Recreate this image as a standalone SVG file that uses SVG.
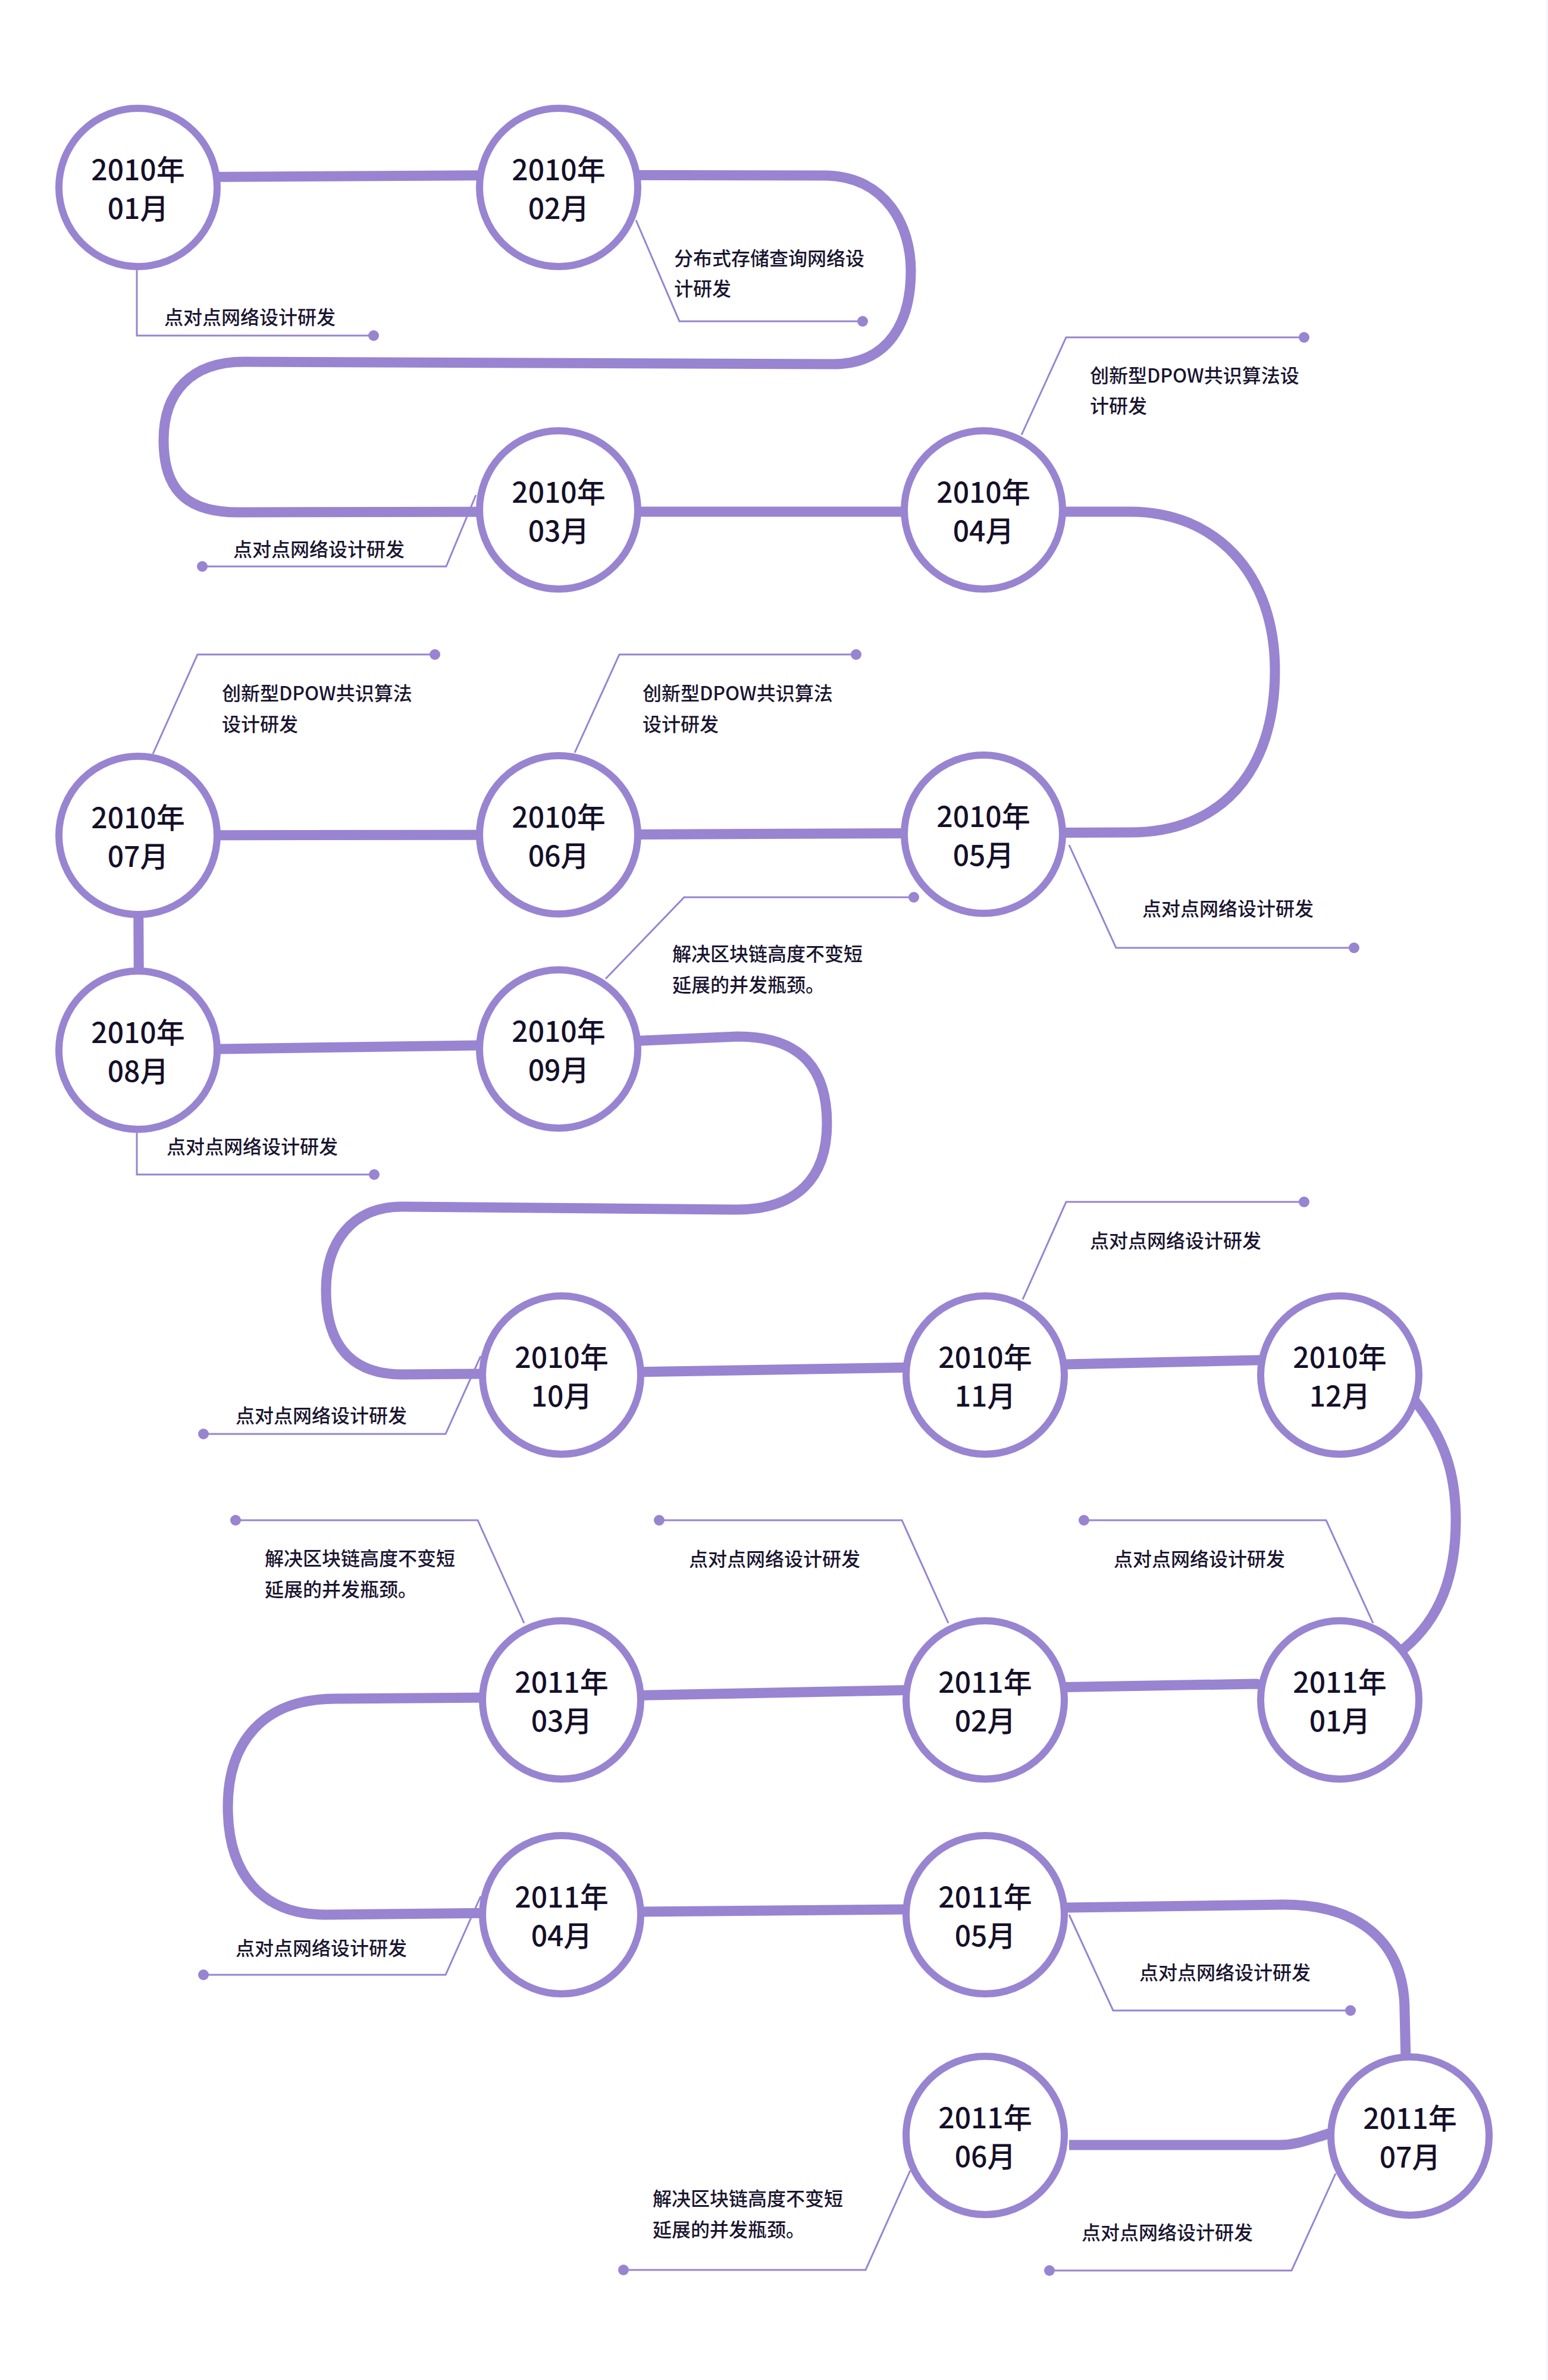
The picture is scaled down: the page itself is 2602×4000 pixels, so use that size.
<svg xmlns="http://www.w3.org/2000/svg" width="2602" height="4000" viewBox="0 0 2602 4000">
<style>
.bg{fill:#ffffff}
.path{fill:none;stroke:#9884d0;stroke-width:17;stroke-linejoin:round}
.ring{fill:#ffffff;stroke:#9884d0;stroke-width:12}
.lead{fill:none;stroke:#9884d0;stroke-width:3}
.dot{fill:#9884d0}
.yr{font-family:"Noto Sans CJK SC","Noto Sans",sans-serif;font-size:48px;font-weight:500;fill:#150f29;text-anchor:middle}
.lbl{font-family:"Noto Sans CJK SC","Noto Sans",sans-serif;font-size:32px;font-weight:500;fill:#1a1530}
</style>
<rect class="bg" x="0" y="0" width="2602" height="4000"/>
<rect x="2599" y="0" width="3" height="4000" fill="#f7f4fc"/>

<g id="connectors">
<path class="path" d="M232 298 L939 294 L1390 295 C1490 298 1531 380 1531 455 C1531 540 1495 612 1400 612 L410 608 C320 608 275 660 275 740 C275 830 320 863 408 861 L939 860 L1653 860 L1900 860 C2040 860 2143 960 2143 1127 C2143 1300 2050 1399 1900 1399 L1653 1400 L939 1403 L232 1404 L234 1765 L939 1755 L1240 1742 C1350 1742 1390 1800 1390 1888 C1390 1980 1340 2033 1237 2033 L676 2028 C590 2028 548 2090 548 2168 C548 2260 590 2310 676 2310 L944 2308 L1656 2296 L2252 2283 L2378 2354 C2430 2420 2447 2480 2447 2555 C2447 2650 2420 2720 2361 2770 L2252 2857 L2112 2830 L1656 2838 L944 2852 L564 2855 C440 2855 383 2930 383 3037 C383 3150 440 3218 547 3218 L944 3214 L1656 3208 L2158 3201 C2280 3201 2361 3260 2361 3380 L2366 3590 L2233 3586 C2200 3596 2180 3605 2150 3605 L1797 3605"/>
<g id="leaders">
<polyline class="lead" points="230,454 230,564 628,564"/><circle class="dot" cx="628" cy="564" r="9"/>
<polyline class="lead" points="1069,370 1142,540 1450,540"/><circle class="dot" cx="1450" cy="540" r="9"/>
<polyline class="lead" points="800,832 750,952 340,952"/><circle class="dot" cx="340" cy="952" r="9"/>
<polyline class="lead" points="1717,731 1792,567 2192,567"/><circle class="dot" cx="2192" cy="567" r="9"/>
<polyline class="lead" points="1797,1420 1876,1593 2276,1593"/><circle class="dot" cx="2276" cy="1593" r="9"/>
<polyline class="lead" points="966,1265 1041,1100 1439,1100"/><circle class="dot" cx="1439" cy="1100" r="9"/>
<polyline class="lead" points="257,1267 332,1100 731,1100"/><circle class="dot" cx="731" cy="1100" r="9"/>
<polyline class="lead" points="230,1904 230,1974 629,1974"/><circle class="dot" cx="629" cy="1974" r="9"/>
<polyline class="lead" points="1018,1645 1150,1508 1536,1508"/><circle class="dot" cx="1536" cy="1508" r="9"/>
<polyline class="lead" points="808,2279 749,2410 342,2410"/><circle class="dot" cx="342" cy="2410" r="9"/>
<polyline class="lead" points="1719,2184 1792,2020 2192,2020"/><circle class="dot" cx="2192" cy="2020" r="9"/>
<polyline class="lead" points="2308,2728 2229,2555 1822,2555"/><circle class="dot" cx="1822" cy="2555" r="9"/>
<polyline class="lead" points="1594,2728 1516,2555 1108,2555"/><circle class="dot" cx="1108" cy="2555" r="9"/>
<polyline class="lead" points="881,2728 803,2555 396,2555"/><circle class="dot" cx="396" cy="2555" r="9"/>
<polyline class="lead" points="808,3187 749,3319 342,3319"/><circle class="dot" cx="342" cy="3319" r="9"/>
<polyline class="lead" points="1797,3218 1871,3379 2270,3379"/><circle class="dot" cx="2270" cy="3379" r="9"/>
<polyline class="lead" points="1530,3648 1455,3815 1048,3815"/><circle class="dot" cx="1048" cy="3815" r="9"/>
<polyline class="lead" points="2245,3653 2171,3816 1764,3816"/><circle class="dot" cx="1764" cy="3816" r="9"/>
</g>
</g>

<g id="n2010-01"><circle class="ring" cx="232" cy="315" r="133"/><text class="yr" x="232" y="303">2010年</text><text class="yr" x="232" y="368">01月</text><text class="lbl" x="276" y="545">点对点网络设计研发</text></g>
<g id="n2010-02"><circle class="ring" cx="939" cy="315" r="133"/><text class="yr" x="939" y="303">2010年</text><text class="yr" x="939" y="368">02月</text><text class="lbl" x="1133" y="446">分布式存储查询网络设</text><text class="lbl" x="1133" y="497">计研发</text></g>
<g id="n2010-03"><circle class="ring" cx="939" cy="857" r="133"/><text class="yr" x="939" y="845">2010年</text><text class="yr" x="939" y="910">03月</text><text class="lbl" x="392" y="935">点对点网络设计研发</text></g>
<g id="n2010-04"><circle class="ring" cx="1653" cy="857" r="133"/><text class="yr" x="1653" y="845">2010年</text><text class="yr" x="1653" y="910">04月</text><text class="lbl" x="1832" y="643">创新型DPOW共识算法设</text><text class="lbl" x="1832" y="694">计研发</text></g>
<g id="n2010-05"><circle class="ring" cx="1653" cy="1402" r="133"/><text class="yr" x="1653" y="1390">2010年</text><text class="yr" x="1653" y="1455">05月</text><text class="lbl" x="1920" y="1539">点对点网络设计研发</text></g>
<g id="n2010-06"><circle class="ring" cx="939" cy="1403" r="133"/><text class="yr" x="939" y="1391">2010年</text><text class="yr" x="939" y="1456">06月</text><text class="lbl" x="1080" y="1177">创新型DPOW共识算法</text><text class="lbl" x="1080" y="1229">设计研发</text></g>
<g id="n2010-07"><circle class="ring" cx="232" cy="1404" r="133"/><text class="yr" x="232" y="1392">2010年</text><text class="yr" x="232" y="1457">07月</text><text class="lbl" x="373" y="1177">创新型DPOW共识算法</text><text class="lbl" x="373" y="1229">设计研发</text></g>
<g id="n2010-08"><circle class="ring" cx="232" cy="1765" r="133"/><text class="yr" x="232" y="1753">2010年</text><text class="yr" x="232" y="1818">08月</text><text class="lbl" x="280" y="1939">点对点网络设计研发</text></g>
<g id="n2010-09"><circle class="ring" cx="939" cy="1763" r="133"/><text class="yr" x="939" y="1751">2010年</text><text class="yr" x="939" y="1816">09月</text><text class="lbl" x="1130" y="1615">解决区块链高度不变短</text><text class="lbl" x="1130" y="1667">延展的并发瓶颈。</text></g>
<g id="n2010-10"><circle class="ring" cx="944" cy="2311" r="133"/><text class="yr" x="944" y="2299">2010年</text><text class="yr" x="944" y="2364">10月</text><text class="lbl" x="396" y="2391">点对点网络设计研发</text></g>
<g id="n2010-11"><circle class="ring" cx="1656" cy="2311" r="133"/><text class="yr" x="1656" y="2299">2010年</text><text class="yr" x="1656" y="2364">11月</text><text class="lbl" x="1832" y="2097">点对点网络设计研发</text></g>
<g id="n2010-12"><circle class="ring" cx="2252" cy="2311" r="133"/><text class="yr" x="2252" y="2299">2010年</text><text class="yr" x="2252" y="2364">12月</text></g>
<g id="n2011-01"><circle class="ring" cx="2252" cy="2857" r="133"/><text class="yr" x="2252" y="2845">2011年</text><text class="yr" x="2252" y="2910">01月</text><text class="lbl" x="1872" y="2632">点对点网络设计研发</text></g>
<g id="n2011-02"><circle class="ring" cx="1656" cy="2857" r="133"/><text class="yr" x="1656" y="2845">2011年</text><text class="yr" x="1656" y="2910">02月</text><text class="lbl" x="1158" y="2632">点对点网络设计研发</text></g>
<g id="n2011-03"><circle class="ring" cx="944" cy="2857" r="133"/><text class="yr" x="944" y="2845">2011年</text><text class="yr" x="944" y="2910">03月</text><text class="lbl" x="445" y="2631">解决区块链高度不变短</text><text class="lbl" x="445" y="2683">延展的并发瓶颈。</text></g>
<g id="n2011-04"><circle class="ring" cx="944" cy="3218" r="133"/><text class="yr" x="944" y="3206">2011年</text><text class="yr" x="944" y="3271">04月</text><text class="lbl" x="396" y="3286">点对点网络设计研发</text></g>
<g id="n2011-05"><circle class="ring" cx="1656" cy="3218" r="133"/><text class="yr" x="1656" y="3206">2011年</text><text class="yr" x="1656" y="3271">05月</text><text class="lbl" x="1915" y="3327">点对点网络设计研发</text></g>
<g id="n2011-06"><circle class="ring" cx="1656" cy="3589" r="133"/><text class="yr" x="1656" y="3577">2011年</text><text class="yr" x="1656" y="3642">06月</text><text class="lbl" x="1097" y="3707">解决区块链高度不变短</text><text class="lbl" x="1097" y="3759">延展的并发瓶颈。</text></g>
<g id="n2011-07"><circle class="ring" cx="2370" cy="3590" r="133"/><text class="yr" x="2370" y="3578">2011年</text><text class="yr" x="2370" y="3643">07月</text><text class="lbl" x="1818" y="3764">点对点网络设计研发</text></g>
</svg>
